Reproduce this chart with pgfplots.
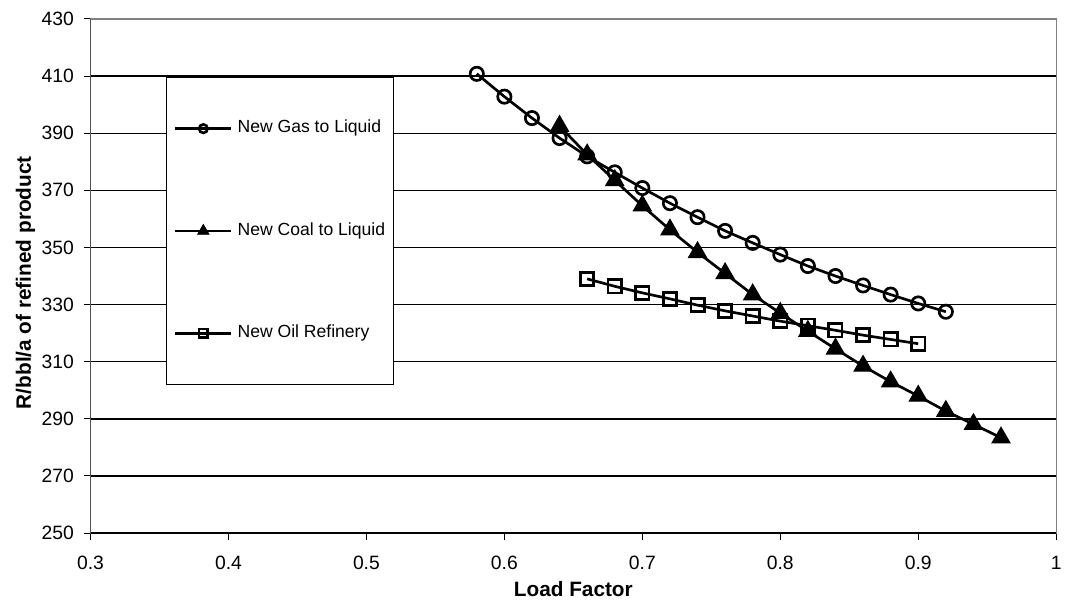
\documentclass[border=0pt]{standalone}
\usepackage{pgfplots}
\pgfplotsset{compat=1.18}
\usepackage{fontspec}
\setmainfont{Liberation Sans}
\begin{document}
\begin{tikzpicture}
\begin{axis}[
  scale only axis, width=725.5pt, height=386.25pt,
  xmin=0.3, xmax=1, ymin=250, ymax=430,
  xtick={0.3,0.4,0.5,0.6,0.7,0.8,0.9,1},
  xticklabels={0.3,0.4,0.5,0.6,0.7,0.8,0.9,1},
  ytick={250,270,290,310,330,350,370,390,410,430},
  yticklabels={250,270,290,310,330,350,370,390,410,430},
  tick label style={font=\fontsize{14.5}{17}\selectfont, black},
  xticklabel style={yshift=-9pt},
  yticklabel style={xshift=-4pt},
  xtick pos=bottom, ytick pos=left,
  tick align=outside, major tick length=5pt,
  tick style={black, line width=0.75pt},
  axis line style={gray, line width=1pt},
  ymajorgrids, grid style={black, line width=1pt},
  xlabel={Load Factor}, ylabel={R/bbl/a of refined product},
  label style={font=\fontsize{15.6}{18}\selectfont\bfseries},
  xlabel style={at={(axis description cs:0.5,-0.109)}, anchor=center},
  ylabel style={at={(axis description cs:-0.0673,0.487)}, anchor=center},
  legend image code/.code={\draw[mark repeat=2,mark phase=2,line width=2pt,#1] plot coordinates {(0pt,0pt) (21pt,0pt) (42pt,0pt)};},
  legend style={at={(axis cs:0.3544,409.8)}, anchor=north west, draw=black, line width=0.75pt, fill=white,
    font=\fontsize{13.2}{15}\selectfont, inner xsep=6pt, inner ysep=32.7pt, row sep=64.9pt,
    nodes={inner sep=0pt, text height=9pt, text depth=3pt},
    /tikz/every odd column/.append style={column sep=3.75pt}},
  legend cell align=left,
]
\addplot[black, line width=2pt, mark=o, mark size=5pt, mark options={line width=2pt, fill=white},
  legend image post style={mark size=3.2pt}] coordinates {
(0.58,410.8) (0.60,402.8) (0.62,395.3) (0.64,388.3) (0.66,381.9) (0.68,376.3) (0.70,370.8) (0.72,365.5) (0.74,360.6)
(0.76,355.8) (0.78,351.6) (0.80,347.5) (0.82,343.5) (0.84,340.0) (0.86,336.7) (0.88,333.5) (0.90,330.4) (0.92,327.5)};
\addlegendentry{New Gas to Liquid}
\addlegendimage{black, legend image code/.code={%
  \draw[black, line width=2pt] (0pt,0pt) -- (42pt,0pt);
  \path plot[mark=triangle*, mark size=5pt, mark options={fill=black, draw=black, line width=0.5pt}] coordinates {(21pt,0pt)};}}
\addlegendentry{New Coal to Liquid}
\addplot[black, line width=2pt, mark=triangle*, mark size=7.6pt, mark options={line width=1pt, fill=black}, forget plot] coordinates {
(0.64,392.5) (0.66,382.5) (0.68,373.5) (0.70,364.6) (0.72,356.2) (0.74,348.3) (0.76,340.9) (0.78,333.5) (0.80,327.0)
(0.82,320.7) (0.84,314.5) (0.86,308.5) (0.88,303.0) (0.90,298.0) (0.92,292.7) (0.94,288.1) (0.96,283.4)};
\addplot[black, line width=2pt, mark=square, mark size=5pt, mark options={line width=2pt, fill=white},
  legend image post style={mark size=3.2pt}] coordinates {
(0.66,339.0) (0.68,336.4) (0.70,334.1) (0.72,332.0) (0.74,329.8) (0.76,327.8) (0.78,326.0) (0.80,324.2) (0.82,322.6)
(0.84,321.0) (0.86,319.3) (0.88,317.8) (0.90,316.3)};
\addlegendentry{New Oil Refinery}
\draw[black, line width=1pt] (rel axis cs:0,1) -- (rel axis cs:0,0) -- (rel axis cs:1,0);
\end{axis}
\path ([xshift=-68pt,yshift=-54pt]current axis.south west) rectangle ([xshift=6pt,yshift=14.25pt]current axis.north east);
\end{tikzpicture}
\end{document}
